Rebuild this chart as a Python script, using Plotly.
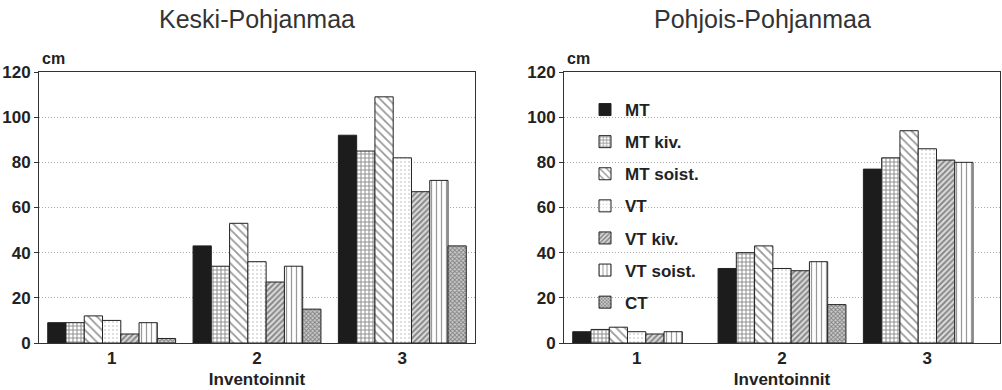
import plotly.graph_objects as go

categories = ["1", "2", "3"]
series_names = ["MT", "MT kiv.", "MT soist.", "VT", "VT kiv.", "VT soist.", "CT"]

# Keski-Pohjanmaa
keski = {
    "MT": [9, 43, 92],
    "MT kiv.": [9, 34, 85],
    "MT soist.": [12, 53, 109],
    "VT": [10, 36, 82],
    "VT kiv.": [4, 27, 67],
    "VT soist.": [9, 34, 72],
    "CT": [2, 15, 43],
}
# Pohjois-Pohjanmaa
pohjois = {
    "MT": [5, 33, 77],
    "MT kiv.": [6, 40, 82],
    "MT soist.": [7, 43, 94],
    "VT": [5, 33, 86],
    "VT kiv.": [4, 32, 81],
    "VT soist.": [5, 36, 80],
    "CT": [None, 17, None],
}

titles = ["Keski-Pohjanmaa", "Pohjois-Pohjanmaa"]
y_label = "cm"
x_label = "Inventoinnit"

styles = {
    "MT": dict(color="#1c1c1c", pattern=dict(shape="")),
    "MT kiv.": dict(color="white", pattern=dict(shape="+", fgcolor="#222", bgcolor="white", size=4, solidity=0.45)),
    "MT soist.": dict(color="white", pattern=dict(shape="\\", fgcolor="#333", bgcolor="white", size=6, solidity=0.3)),
    "VT": dict(color="white", pattern=dict(shape=".", fgcolor="#aaa", bgcolor="white", size=4, solidity=0.2)),
    "VT kiv.": dict(color="white", pattern=dict(shape="/", fgcolor="#333", bgcolor="#ddd", size=4, solidity=0.5)),
    "VT soist.": dict(color="white", pattern=dict(shape="|", fgcolor="#333", bgcolor="white", size=5, solidity=0.25)),
    "CT": dict(color="white", pattern=dict(shape="x", fgcolor="#333", bgcolor="#ccc", size=3, solidity=0.5)),
}

W, H = 1002, 390
def px_x(p): return p / W
def px_y(p): return 1 - p / H

fig = go.Figure()
for idx, data in enumerate([keski, pohjois]):
    xa = "x" if idx == 0 else "x2"
    ya = "y" if idx == 0 else "y2"
    for name in series_names:
        st = styles[name]
        fig.add_trace(go.Bar(
            x=categories, y=data[name], name=name,
            xaxis=xa, yaxis=ya,
            marker=dict(color=st["color"], pattern=st["pattern"],
                        line=dict(color="#222", width=1)),
            showlegend=(idx == 1), legendgroup=name,
        ))

FONT = "Liberation Sans, Arial"
tickfont = dict(family=FONT, size=17, color="#222", weight="bold")
common_y = dict(range=[0, 120], dtick=20, showgrid=True, gridcolor="#a8a8a8",
                griddash="1px,2px", gridwidth=1, showline=True, linecolor="#333",
                linewidth=1, mirror=True, ticks="outside", ticklen=4,
                tickcolor="#333", tickfont=tickfont, zeroline=False,
                fixedrange=True, automargin=False)
common_x = dict(showline=True, linecolor="#333", linewidth=1, mirror=True,
                ticks="", tickfont=tickfont, automargin=False,
                title=dict(text=x_label, font=tickfont, standoff=5))

y_dom = [px_y(343), px_y(72)]
fig.update_layout(
    width=W, height=H,
    margin=dict(l=0, r=0, t=0, b=0),
    paper_bgcolor="white", plot_bgcolor="white",
    barmode="group", bargap=0.12, bargroupgap=0,
    xaxis=dict(domain=[px_x(39), px_x(475)], anchor="y", **common_x),
    yaxis=dict(domain=y_dom, anchor="x", **common_y),
    xaxis2=dict(domain=[px_x(564), px_x(1000)], anchor="y2", **common_x),
    yaxis2=dict(domain=y_dom, anchor="x2", **common_y),
    legend=dict(x=px_x(585), y=px_y(92), xanchor="left", yanchor="top",
                bgcolor="rgba(0,0,0,0)", font=dict(family=FONT, size=17, color="#222", weight="bold"),
                tracegroupgap=7, itemclick=False, itemdoubleclick=False),
    showlegend=True,
)

ann = []
for cx, t in zip([257, 762], titles):
    ann.append(dict(text=t, x=px_x(cx), y=px_y(19), xref="paper", yref="paper",
                    showarrow=False, xanchor="center", yanchor="middle",
                    font=dict(family=FONT, size=25, color="#333")))
for lx in [40, 565]:
    ann.append(dict(text=y_label, x=px_x(lx), y=px_y(58), xref="paper", yref="paper",
                    showarrow=False, xanchor="left", yanchor="middle",
                    font=dict(family=FONT, size=16, color="#222", weight="bold")))
fig.update_layout(annotations=ann)

fig.write_html("out.html")
